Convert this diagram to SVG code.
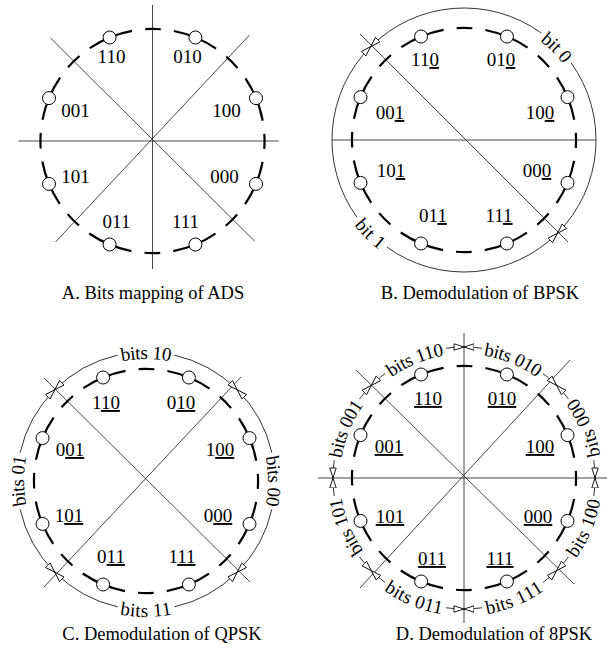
<svg xmlns="http://www.w3.org/2000/svg" xmlns:xlink="http://www.w3.org/1999/xlink" width="607" height="656" viewBox="0 0 607 656">
  <style>
    .ln { stroke: #333; stroke-width: 0.9; fill: none; }
    .ring { fill: none; stroke: #000; stroke-width: 2.2; stroke-dasharray: 16 13 46 13; stroke-dashoffset: 8; }
    .pt { fill: #fff; stroke: #000; stroke-width: 1; }
    .arc { fill: none; stroke: #000; stroke-width: 0.8; marker-start: url(#tip); }
    text { font-family: "Liberation Serif", "Times New Roman", serif; fill: #000; }
    .lbl { font-size: 19px; text-anchor: middle; }
    .cap { font-size: 18.5px; text-anchor: middle; }
    .arct { font-size: 19px; text-anchor: middle; dominant-baseline: central; }
    .u { text-decoration: underline; }
  </style>
  <defs>
    <!-- open arrowhead pointing at a sector boundary -->
    <marker id="tip" viewBox="0 0 11 8" refX="10.5" refY="4" markerWidth="11" markerHeight="8" markerUnits="userSpaceOnUse" orient="auto-start-reverse">
      <path d="M0.5,0.8 L10.5,4 L0.5,7.2 Z" fill="#fff" stroke="#000" stroke-width="0.9"/>
    </marker>
    <!-- dashed constellation ring with the eight symbol points -->
    <g id="ring">
      <circle class="ring" cx="0" cy="0" r="112.05"/>
      <circle class="pt" cx="103.5" cy="-42.9" r="6.5"/>
      <circle class="pt" cx="42.9" cy="-103.5" r="6.5"/>
      <circle class="pt" cx="-42.9" cy="-103.5" r="6.5"/>
      <circle class="pt" cx="-103.5" cy="-42.9" r="6.5"/>
      <circle class="pt" cx="-103.5" cy="42.9" r="6.5"/>
      <circle class="pt" cx="-42.9" cy="103.5" r="6.5"/>
      <circle class="pt" cx="42.9" cy="103.5" r="6.5"/>
      <circle class="pt" cx="103.5" cy="42.9" r="6.5"/>
    </g>
    <!-- text paths, panel B (r=132) -->
    <path id="pb0" d="M34.16,-127.5 A132,132 0 0 1 127.5,-34.16"/>
    <path id="pb1" d="M-127.5,34.16 A132,132 0 0 0 -34.16,127.5"/>
    <!-- text paths, panel C (r=129) -->
    <path id="pc10" d="M-64.5,-111.72 A129,129 0 0 1 64.5,-111.72"/>
    <path id="pc00" d="M111.72,-64.5 A129,129 0 0 1 111.72,64.5"/>
    <path id="pc11" d="M-64.5,111.72 A129,129 0 0 0 64.5,111.72"/>
    <path id="pc01" d="M-111.72,64.5 A129,129 0 0 1 -111.72,-64.5"/>
    <!-- text paths, panel D (r=131) -->
    <path id="pd110" d="M-88.5,-96.58 A131,131 0 0 1 -5.71,-130.88"/>
    <path id="pd010" d="M5.71,-130.88 A131,131 0 0 1 88.5,-96.58"/>
    <path id="pd000" d="M130.88,-5.71 A131,131 0 0 0 96.58,-88.5"/>
    <path id="pd100" d="M96.58,88.5 A131,131 0 0 0 130.88,5.71"/>
    <path id="pd111" d="M5.71,130.88 A131,131 0 0 0 88.5,96.58"/>
    <path id="pd011" d="M-88.5,96.58 A131,131 0 0 0 -5.71,130.88"/>
    <path id="pd101" d="M-96.58,88.5 A131,131 0 0 1 -130.88,5.71"/>
    <path id="pd001" d="M-130.88,-5.71 A131,131 0 0 1 -96.58,-88.5"/>
  </defs>

  <!-- A. bit mapping -->
  <g id="panelA" transform="translate(152.5,141)">
    <g id="A-lines">
      <line class="ln" x1="-134" y1="0" x2="126" y2="0"/>
      <line class="ln" x1="0" y1="-136" x2="0" y2="128"/>
      <line class="ln" x1="-102" y1="-103" x2="102" y2="100"/>
      <line class="ln" x1="97" y1="-106" x2="-97" y2="101"/>
    </g>
    <use href="#ring"/>
    <g id="A-labels">
      <text class="lbl" x="-41" y="-78">110</text>
      <text class="lbl" x="35" y="-78">010</text>
      <text class="lbl" x="-77" y="-24">001</text>
      <text class="lbl" x="74" y="-24">100</text>
      <text class="lbl" x="-77" y="42">101</text>
      <text class="lbl" x="72" y="42">000</text>
      <text class="lbl" x="-36" y="87">011</text>
      <text class="lbl" x="33" y="87">111</text>
    </g>
  </g>

  <!-- B. BPSK decision regions -->
  <g id="panelB" transform="translate(464,140)">
    <g id="B-lines">
      <line class="ln" x1="-132" y1="0" x2="132" y2="0"/>
      <line class="ln" x1="-104" y1="-106" x2="104" y2="102"/>
    </g>
    <use href="#ring"/>
    <g id="B-arcs">
      <path class="arc" d="M-93.34,-93.34 A132,132 0 0 1 77.22,-107.07"/>
      <path class="arc" d="M93.34,93.34 A132,132 0 0 0 107.07,-77.22"/>
      <path class="arc" d="M-93.34,-93.34 A132,132 0 0 0 -107.07,77.22"/>
      <path class="arc" d="M93.34,93.34 A132,132 0 0 1 -77.22,107.07"/>
      <text class="arct"><textPath href="#pb0" startOffset="50%">bit 0</textPath></text>
      <text class="arct"><textPath href="#pb1" startOffset="50%">bit 1</textPath></text>
    </g>
    <g id="B-labels">
      <text class="lbl" x="-39" y="-74">11<tspan class="u">0</tspan></text>
      <text class="lbl" x="37" y="-74">01<tspan class="u">0</tspan></text>
      <text class="lbl" x="-74" y="-21">00<tspan class="u">1</tspan></text>
      <text class="lbl" x="76" y="-21">10<tspan class="u">0</tspan></text>
      <text class="lbl" x="-73" y="37">10<tspan class="u">1</tspan></text>
      <text class="lbl" x="73" y="37">00<tspan class="u">0</tspan></text>
      <text class="lbl" x="-31" y="82">01<tspan class="u">1</tspan></text>
      <text class="lbl" x="35" y="82">11<tspan class="u">1</tspan></text>
    </g>
  </g>

  <!-- C. QPSK decision regions -->
  <g id="panelC" transform="translate(146,481)">
    <g id="C-lines">
      <line class="ln" x1="-102" y1="-103" x2="104" y2="101"/>
      <line class="ln" x1="95" y1="-104" x2="-102" y2="106"/>
    </g>
    <use href="#ring"/>
    <g id="C-arcs">
      <path class="arc" d="M-91.22,-91.22 A129,129 0 0 1 -28.36,-125.84"/>
      <path class="arc" d="M91.22,-91.22 A129,129 0 0 0 28.36,-125.84"/>
      <path class="arc" d="M91.22,-91.22 A129,129 0 0 1 125.84,-28.36"/>
      <path class="arc" d="M91.22,91.22 A129,129 0 0 0 125.84,28.36"/>
      <path class="arc" d="M-91.22,91.22 A129,129 0 0 0 -28.36,125.84"/>
      <path class="arc" d="M91.22,91.22 A129,129 0 0 1 28.36,125.84"/>
      <path class="arc" d="M-91.22,91.22 A129,129 0 0 1 -125.84,28.36"/>
      <path class="arc" d="M-91.22,-91.22 A129,129 0 0 0 -125.84,-28.36"/>
      <text class="arct"><textPath href="#pc10" startOffset="50%">bits 10</textPath></text>
      <text class="arct"><textPath href="#pc00" startOffset="50%">bits 00</textPath></text>
      <text class="arct"><textPath href="#pc11" startOffset="50%">bits 11</textPath></text>
      <text class="arct"><textPath href="#pc01" startOffset="50%">bits 01</textPath></text>
    </g>
    <g id="C-labels">
      <text class="lbl" x="-40" y="-72">1<tspan class="u">10</tspan></text>
      <text class="lbl" x="35" y="-72">0<tspan class="u">10</tspan></text>
      <text class="lbl" x="-76" y="-25">0<tspan class="u">01</tspan></text>
      <text class="lbl" x="74" y="-25">1<tspan class="u">00</tspan></text>
      <text class="lbl" x="-77" y="41">1<tspan class="u">01</tspan></text>
      <text class="lbl" x="72" y="41">0<tspan class="u">00</tspan></text>
      <text class="lbl" x="-35" y="82">0<tspan class="u">11</tspan></text>
      <text class="lbl" x="36" y="82">1<tspan class="u">11</tspan></text>
    </g>
  </g>

  <!-- D. 8PSK decision regions -->
  <g id="panelD" transform="translate(464,478)">
    <g id="D-lines">
      <line class="ln" x1="-146" y1="0" x2="143" y2="0"/>
      <line class="ln" x1="0" y1="-145" x2="0" y2="145"/>
      <line class="ln" x1="-108" y1="-108" x2="110" y2="106"/>
      <line class="ln" x1="106" y1="-118" x2="-104" y2="110"/>
    </g>
    <use href="#ring"/>
    <g id="D-arcs">
      <path class="arc" d="M131,0 A131,131 0 0 0 129.75,-18.03"/>
      <path class="arc" d="M131,0 A131,131 0 0 1 129.75,18.03"/>
      <path class="arc" d="M92.63,-92.63 A131,131 0 0 0 78.98,-104.51"/>
      <path class="arc" d="M92.63,-92.63 A131,131 0 0 1 104.51,-78.98"/>
      <path class="arc" d="M0,-131 A131,131 0 0 0 -18.03,-129.75"/>
      <path class="arc" d="M0,-131 A131,131 0 0 1 18.03,-129.75"/>
      <path class="arc" d="M-92.63,-92.63 A131,131 0 0 0 -104.51,-78.98"/>
      <path class="arc" d="M-92.63,-92.63 A131,131 0 0 1 -78.98,-104.51"/>
      <path class="arc" d="M-131,0 A131,131 0 0 0 -129.75,18.03"/>
      <path class="arc" d="M-131,0 A131,131 0 0 1 -129.75,-18.03"/>
      <path class="arc" d="M-92.63,92.63 A131,131 0 0 0 -78.98,104.51"/>
      <path class="arc" d="M-92.63,92.63 A131,131 0 0 1 -104.51,78.98"/>
      <path class="arc" d="M0,131 A131,131 0 0 0 18.03,129.75"/>
      <path class="arc" d="M0,131 A131,131 0 0 1 -18.03,129.75"/>
      <path class="arc" d="M92.63,92.63 A131,131 0 0 0 104.51,78.98"/>
      <path class="arc" d="M92.63,92.63 A131,131 0 0 1 78.98,104.51"/>
      <text class="arct"><textPath href="#pd110" startOffset="50%">bits 110</textPath></text>
      <text class="arct"><textPath href="#pd010" startOffset="50%">bits 010</textPath></text>
      <text class="arct"><textPath href="#pd000" startOffset="50%">bits 000</textPath></text>
      <text class="arct"><textPath href="#pd100" startOffset="50%">bits 100</textPath></text>
      <text class="arct"><textPath href="#pd111" startOffset="50%">bits 111</textPath></text>
      <text class="arct"><textPath href="#pd011" startOffset="50%">bits 011</textPath></text>
      <text class="arct"><textPath href="#pd101" startOffset="50%">bits 101</textPath></text>
      <text class="arct"><textPath href="#pd001" startOffset="50%">bits 001</textPath></text>
    </g>
    <g id="D-labels">
      <text class="lbl u" x="-36" y="-73">110</text>
      <text class="lbl u" x="38" y="-73">010</text>
      <text class="lbl u" x="-75" y="-25">001</text>
      <text class="lbl u" x="76" y="-25">100</text>
      <text class="lbl u" x="-74" y="45">101</text>
      <text class="lbl u" x="74" y="45">000</text>
      <text class="lbl u" x="-32" y="87">011</text>
      <text class="lbl u" x="36" y="87">111</text>
    </g>
  </g>

  <g id="captions">
    <text class="cap" x="153" y="299">A. Bits mapping of ADS</text>
    <text class="cap" x="480" y="299">B. Demodulation of BPSK</text>
    <text class="cap" x="162" y="640">C. Demodulation of QPSK</text>
    <text class="cap" x="494" y="640">D. Demodulation of 8PSK</text>
  </g>
</svg>
